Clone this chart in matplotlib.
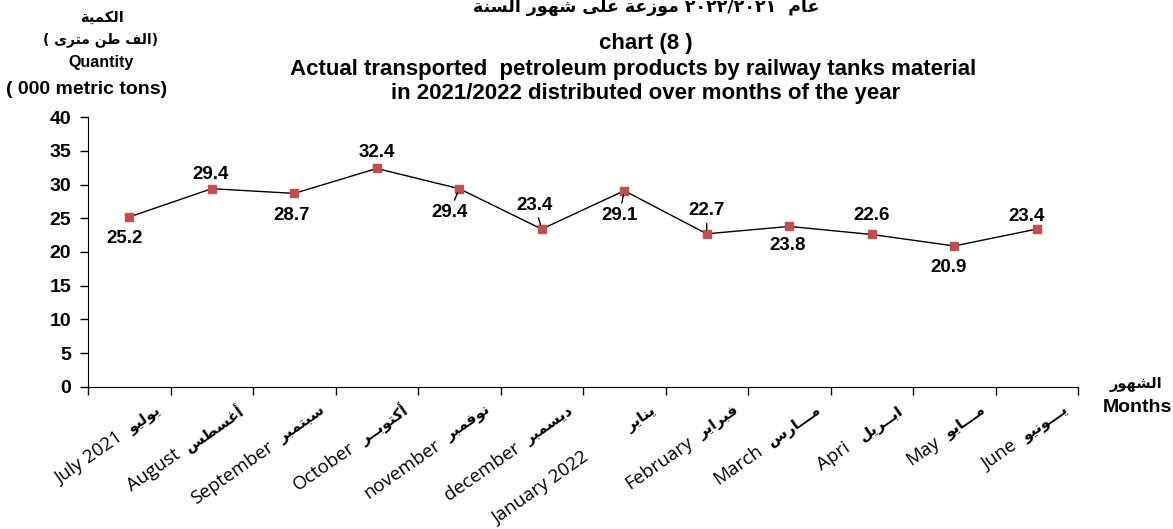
"""Chart (8): petroleum products transported by railway tanks, 2021/2022."""

import matplotlib

matplotlib.use("Agg")
import matplotlib.pyplot as plt
import numpy as np

months_en = [
    "July 2021", "August", "September", "October", "november", "december",
    "January 2022        ", "February", "March", "Apri ", "May", "June",
]
months_ar = [
    "يوليو", "أغسطس", "سبتمبر", "أكتوبــر", "نوفمبر", "ديسمبر",
    "يناير", "فبراير", "مـــارس", "ابــريل", "مـــايو", "يـــونيو",
]
quantity = [25.2, 29.4, 28.7, 32.4, 29.4, 23.4, 29.1, 22.7, 23.8, 22.6, 20.9, 23.4]

# label offsets in pixels (dx, dy) and whether a leader line is drawn
label_offsets = [(-5, -22), (-1, 14), (-3, -22), (0, 16), (-10, -24), (-7, 24),
                 (-5, -25), (0, 23), (-2, -19), (0, 19), (-6, -22), (-10, 13)]
leaders = [False, False, False, False, True, True, True, True, False, False, False, False]

# --- tiny Arabic shaper (no arabic_reshaper available) ---
DUAL = {"ب": 0xFE8F, "ت": 0xFE95, "س": 0xFEB1, "ش": 0xFEB5, "ط": 0xFEC1,
        "ع": 0xFEC9, "غ": 0xFECD, "ف": 0xFED1, "ك": 0xFED9, "ل": 0xFEDD,
        "م": 0xFEE1, "ن": 0xFEE5, "ه": 0xFEE9, "ي": 0xFEF1}
RIGHT = {"ا": 0xFE8D, "أ": 0xFE83, "ة": 0xFE93, "د": 0xFEA9, "ر": 0xFEAD,
         "ز": 0xFEAF, "و": 0xFEED, "ى": 0xFEEF}
TATWEEL = "ـ"


def shape(text):
    out = []
    for i, ch in enumerate(text):
        prev = text[i - 1] if i > 0 else ""
        nxt = text[i + 1] if i + 1 < len(text) else ""
        join_prev = prev in DUAL or prev == TATWEEL
        if ch in DUAL:
            join_next = nxt in DUAL or nxt in RIGHT or nxt == TATWEEL
            base = DUAL[ch]
            if join_prev and join_next:
                code = base + 3
            elif join_prev:
                code = base + 1
            elif join_next:
                code = base + 2
            else:
                code = base
            out.append(chr(code))
        elif ch in RIGHT:
            out.append(chr(RIGHT[ch] + (1 if join_prev else 0)))
        else:
            out.append(ch)
    return "".join(out)


def rtl(text):
    return shape(text)[::-1]


AR_FONT = ["DejaVu Sans"]
EN_BOLD = "Liberation Sans"
TICK_FONT = ["Open Sans", "DejaVu Sans"]

fig = plt.figure(figsize=(11.73, 5.29), dpi=100)
ax = fig.add_axes([88 / 1173, 142.3 / 529, 990 / 1173, 269.4 / 529])

x = np.arange(len(quantity))
ax.plot(x, quantity, color="black", lw=1, marker="s", markersize=5.5,
        markerfacecolor="#C0504D", markeredgecolor="#C0504D", zorder=3)

for xi, val, (dx, dy), lead in zip(x, quantity, label_offsets, leaders):
    arrow = dict(arrowstyle="-", color="black", lw=1, shrinkA=1, shrinkB=3) if lead else None
    ax.annotate(f"{val:.1f}", (xi, val), xytext=(dx, dy), textcoords="offset pixels",
                ha="center", va="center", fontsize=13.5, fontweight="bold",
                family=EN_BOLD, arrowprops=arrow)

ax.set_xlim(-0.5, len(quantity) - 0.5)
ax.set_ylim(0, 40)
ax.set_yticks(np.arange(0, 41, 5))
ax.set_xticks(np.arange(-0.5, len(quantity), 1))
ax.set_xticklabels([])
ax.tick_params(axis="x", direction="out", length=6, width=1)
ax.tick_params(axis="y", direction="out", length=6, width=1, pad=6)
for lbl in ax.get_yticklabels():
    lbl.set_fontsize(14)
    lbl.set_fontweight("bold")
    lbl.set_family(EN_BOLD)
ax.spines["top"].set_visible(False)
ax.spines["right"].set_visible(False)

# month labels: bold Arabic at the upper end, English word before it
renderer = fig.canvas.get_renderer()
angle = 35
cos_a, sin_a = np.cos(np.radians(angle)), np.sin(np.radians(angle))
end_dx, end_dy, gap = 30, -22, 10
for xi, en, ar in zip(x, months_en, months_ar):
    ax.annotate(rtl(ar), (xi, 0), xycoords=("data", "axes fraction"),
                xytext=(end_dx, end_dy), textcoords="offset pixels",
                rotation=angle, rotation_mode="anchor", ha="right", va="center",
                fontsize=11, fontweight="bold", family=AR_FONT,
                annotation_clip=False)
    probe = fig.text(0, 0, rtl(ar), fontsize=11, fontweight="bold", family=AR_FONT)
    w = probe.get_window_extent(renderer).width + gap
    probe.remove()
    ax.annotate(en, (xi, 0), xycoords=("data", "axes fraction"),
                xytext=(end_dx - w * cos_a, end_dy - w * sin_a), textcoords="offset pixels",
                rotation=angle, rotation_mode="anchor", ha="right", va="center",
                fontsize=13.5, family=TICK_FONT, annotation_clip=False)

# titles
cx = 646 / 1173
title_ar = rtl("موزعة على شهور السنة") + " ٢٠٢٢/٢٠٢١  " + rtl("عام")
fig.text(cx, 1 - 12 / 529, title_ar, ha="center", va="baseline",
         fontsize=12.5, fontweight="bold", family=AR_FONT)
fig.text(cx, 1 - 43 / 529, "chart (8 )", ha="center", va="center",
         fontsize=16, fontweight="bold", family=EN_BOLD)
fig.text(633 / 1173, 1 - 69 / 529,
         "Actual transported  petroleum products by railway tanks material",
         ha="center", va="center", fontsize=16, fontweight="bold", family=EN_BOLD)
fig.text(cx, 1 - 93 / 529, "in 2021/2022 distributed over months of the year",
         ha="center", va="center", fontsize=16, fontweight="bold", family=EN_BOLD)

# y axis caption
fig.text(102 / 1173, 1 - 17 / 529, rtl("الكمية"), ha="center", va="center",
         fontsize=10.5, fontweight="bold", family=AR_FONT)
fig.text(101 / 1173, 1 - 40 / 529, "( " + rtl("الف طن مترى") + ")", ha="center",
         va="center", fontsize=10, fontweight="bold", family=AR_FONT)
fig.text(101 / 1173, 1 - 63 / 529, "Quantity", ha="center", va="center",
         fontsize=11.5, fontweight="bold", family=EN_BOLD)
fig.text(87 / 1173, 1 - 90 / 529, "( 000 metric tons)", ha="center", va="center",
         fontsize=14, fontweight="bold", family=EN_BOLD)

# x axis caption
fig.text(1136 / 1173, 1 - 384 / 529, rtl("الشهور"), ha="center", va="center",
         fontsize=10.5, fontweight="bold", family=AR_FONT)
fig.text(1137 / 1173, 1 - 408 / 529, "Months", ha="center", va="center",
         fontsize=14, fontweight="bold", family=EN_BOLD)

fig.savefig("out.png", dpi=100)
